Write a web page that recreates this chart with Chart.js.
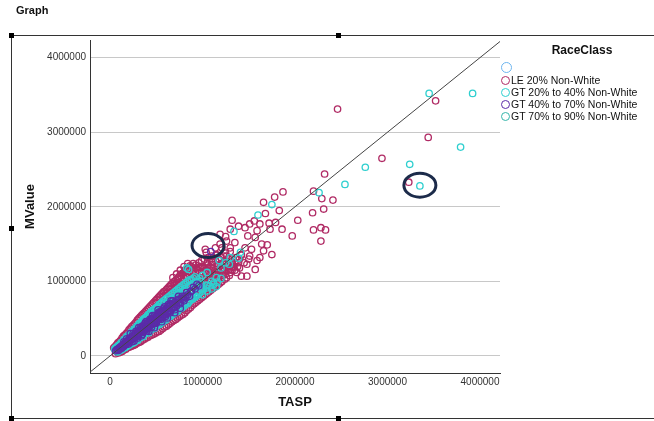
<!DOCTYPE html>
<html lang="en">
<head>
  <meta charset="UTF-8">
  <title>Graph - MValue vs TASP by RaceClass</title>
  <script src="https://cdn.jsdelivr.net/npm/chart.js"></script>
  <style>
    body { margin: 0; background: #fff; font-family: "Liberation Sans", Arial, sans-serif; }
    #wrap { position: relative; width: 654px; height: 421px; overflow: hidden; }
    #chart { position: absolute; left: 0; top: 0; }
    .title { position: absolute; left: 16px; top: 4px; font-weight: bold; font-size: 11px; color: #111; }
    .hline { position: absolute; height: 1px; background: #333; }
    .vline { position: absolute; width: 1px; background: #333; }
    .knob { position: absolute; width: 5px; height: 5px; background: #000; }
    #legend { position: absolute; left: 500px; top: 43px; width: 154px; font-size: 10.5px; color: #111; }
    #legend h4 { margin: 0 0 5px 0; text-align: center; font-size: 12px; padding-left: 10px; }
    #legend .row { height: 12px; line-height: 12px; white-space: nowrap; margin-left: 1px; }
    #legend .dot { display: inline-block; width: 7px; height: 7px; border: 1.5px solid; border-radius: 50%; vertical-align: -1px; margin-right: 1px; }
  </style>
</head>
<body>
<div id="wrap">
  <canvas id="chart" width="654" height="421"></canvas>
  <div class="title">Graph</div>
  <div class="hline" style="left:11px; top:35px; width:643px"></div>
  <div class="hline" style="left:11px; top:418px; width:643px"></div>
  <div class="vline" style="left:11px; top:35px; height:384px"></div>
  <div class="knob" style="left:9px; top:33px"></div>
  <div class="knob" style="left:336px; top:33px"></div>
  <div class="knob" style="left:9px; top:226px"></div>
  <div class="knob" style="left:336px; top:416px"></div>
  <div class="knob" style="left:9px; top:416px"></div>
  <div id="legend"><h4>RaceClass</h4></div>
</div>

<script>
  // all values in thousands (TASP, MValue)
  const seriesNames = ["", "LE 20% Non-White", "GT 20% to 40% Non-White", "GT 40% to 70% Non-White", "GT 70% to 90% Non-White"];
  const seriesColors = ["#6cb4ee", "#b02a64", "#2ecfcf", "#5b2ba8", "#35b5aa"];

  const xTicks = [0, 1000000, 2000000, 3000000, 4000000];
  const yTicks = [0, 1000000, 2000000, 3000000, 4000000];

  const unknownPts = [];

  const le20Pts = [
    // outliers
    [3520,3420],[2460,3310],[3440,2930],[2940,2650],[2320,2440],[3230,2330],[2200,2210],[1870,2200],[1780,2130],[2290,2110],
    [2410,2090],[1660,2060],[1830,1950],[2310,1970],[2190,1920],[1680,1910],[2030,1820],[1720,1780],[1790,1790],[2280,1720],
    [2200,1690],[2330,1690],[1860,1700],[1560,1810],[1620,1770],[1510,1770],[1460,1720],[1590,1680],[1730,1700],[1970,1610],
    [2280,1540],[1300,1700],[1190,1630],[1390,1740],[1490,1610],[1570,1590],[1640,1500],[1700,1490],[1660,1410],[1750,1360],
    [1620,1320],[1590,1280],[1510,1340],[1530,1430],[1460,1450],[1420,1360],[1480,1230],[1570,1160],[1480,1070],[1300,1450],
    [1350,1520],[1260,1540],[1030,1430],[1040,1390],[1140,1450],[1210,1450],[1150,1360],[1260,1340],[1320,1190],[1220,1140],
    [1370,1120],[1420,1070],[970,1190],[1060,1140],[900,1070],[1190,1500],[1320,1820],[1250,1600],
    // upper edge of cluster
    [40,110],[70,150],[100,190],[130,240],[160,280],[190,320],[220,370],[250,410],[280,450],[310,500],
    [340,540],[370,580],[400,620],[430,660],[460,700],[490,740],[520,780],[550,820],[580,860],[610,890],
    [640,930],[670,970],[700,1000],[730,1040],[760,1080],[790,1110],[820,1150],[850,1180],[880,1200],[760,1150],
    [800,1200],[720,1100],[840,1240],[900,1240],[680,1050],
    [55,125],[85,175],[115,210],[145,265],[175,300],[205,350],[235,395],[265,430],[295,480],[325,520],
    [355,560],[385,600],[415,640],[445,680],[475,720],[505,760],[535,800],[565,840],[595,870],[625,910],
    [655,950],[685,990],[715,1020],[745,1060],[775,1100],[805,1130],[835,1160],[865,1210],[895,1180],[925,1220],
    [960,1250],[990,1280],[1020,1300],[1060,1320],[1100,1340],
    // lower edge of cluster
    [60,30],[110,50],[150,80],[190,110],[230,130],[270,150],[310,180],[350,210],[390,240],[430,270],
    [470,290],[510,320],[550,350],[590,390],[630,420],[670,460],[710,490],[750,530],[790,560],[830,610],
    [870,650],[910,700],[950,740],[990,780],[1030,820],[1070,860],[1110,900],[1150,940],[1190,980],[1240,1030],
    [1290,1080],
    [90,40],[130,60],[170,90],[210,120],[250,140],[290,170],[330,190],[370,225],[410,250],[450,280],
    [490,305],[530,330],[570,370],[610,400],[650,440],[690,475],[730,510],[770,545],[810,580],[850,630],
    [890,680],[930,720],[970,760],[1010,800],[1050,840],[1090,880],[1130,920],[1170,960],[1210,1000],[1260,1050],
    // dense upper region
    [700,850],[720,900],[740,820],[760,870],[780,950],[800,900],[820,850],[840,950],[860,1000],[880,920],
    [900,980],[920,1050],[940,900],[960,1000],[980,1080],[1000,950],[1020,1050],[1040,1120],[1060,1000],[1080,1100],
    [1100,1180],[1120,1050],[1140,1130],[1160,1200],[1180,1100],[1200,1160],[1220,1250],[1240,1150],[1260,1200],[1280,1300],
    [1300,1220],[1320,1150],[1350,1250],[1380,1200],[1400,1300],[1420,1350],[900,1100],[950,1150],[1000,1200],[1050,1250],
    [1100,1300],[1150,1350],[880,1050],[820,1000],[760,950],[700,900],[650,850],[600,800],[990,1130],[1060,1180],
    [1110,1230],[1200,1320],[1250,1380],[1300,1400],[960,880],[1020,940],[1080,980],[1140,1020],[1200,1050],[1250,1100],
    [1300,1120],[1350,1150],[1400,1180],[1450,1250],[1500,1300],
    [820,1080],[860,1100],[900,1140],[940,1180],[980,1200],[1020,1180],[1060,1220],[1100,1260],[1140,1280],[1180,1300],
    [1230,1340],[1160,1160],[1200,1220],[1240,1280],[1280,1250],[1320,1300],[1360,1320],[1390,1250],[1130,1090],[1170,1140],
    [1210,1190],[1250,1230],[1290,1180],[1330,1220],[1030,1000],[1070,1040],[1110,1080],[1150,1120],[960,1050],[1000,1100],
    [1040,1150],[1080,1200],[930,1000],[970,1120],[880,1000],[840,1050],[800,1050],[780,1000],[740,980],[700,950],
    [660,900],[620,850],[580,800],[540,760],[500,710],
    // mixed inside band
    [400,520],[450,560],[500,600],[550,660],[600,700],[650,760],[700,800],[500,400],[560,460],[620,520],
    [680,580],[740,640],[800,700],[860,760],[920,820],[980,880],[1040,900],[1100,960],[1160,1000],[1220,1080],
    [1280,1150],[1340,1200]
  ];

  const gt2040Pts = [
    // outliers
    [3450,3520],[3920,3520],[3790,2800],[3240,2570],[2760,2530],[3350,2280],[2540,2300],[2260,2190],[1750,2030],[1600,1890],
    [1340,1670],[1390,1310],[1180,1280],[1290,1230],[850,1160],[830,1180],[1410,1390],
    // upper side of band
    [50,90],[80,130],[100,150],[120,180],[150,220],[180,260],[200,280],[230,320],[260,360],[290,400],
    [320,440],[350,470],[380,510],[410,550],[440,590],[470,620],[500,650],[530,690],[560,720],[600,760],
    [640,800],[680,840],[720,880],[760,920],[800,960],[840,1000],[880,1020],[920,1060],
    [70,100],[110,140],[160,200],[210,260],[270,330],[330,400],[390,460],[450,530],[510,590],[570,660],
    [630,720],[690,780],[750,840],[810,900],[870,950],[930,1000],
    [60,110],[90,125],[130,170],[170,230],[190,250],[220,290],[250,330],[280,370],[310,420],[340,450],
    [360,490],[400,530],[430,570],[460,610],[490,640],[520,670],[550,700],[580,740],[620,780],[660,820],
    [700,860],[740,900],[780,940],[820,980],[860,1020],[900,1040],[150,200],[240,300],[300,380],[370,450],
    [420,510],[480,580],[540,640],[610,710],[670,770],[730,830],[790,870],[850,930],[910,980],[970,1040],
    // lower side of band
    [90,60],[130,90],[170,120],[210,150],[250,190],[290,220],[330,250],[370,290],[410,320],[450,360],
    [490,390],[530,420],[570,460],[610,500],[650,530],[690,570],[730,600],[770,640],[810,680],[850,720],
    [890,760],[930,800],[970,850],[1010,900],[1050,940],
    [80,55],[120,80],[160,110],[200,140],[240,170],[280,200],[340,270],[400,330],[460,380],[520,440],
    [580,490],[640,550],[700,600],[760,670],[820,720],[880,780],[940,830],
    [100,70],[140,100],[180,130],[220,160],[260,180],[300,210],[320,240],[360,260],[380,300],[420,310],
    [440,350],[480,370],[500,400],[540,430],[560,450],[600,480],[620,510],[660,540],[680,560],[720,590],
    [740,620],[780,650],[800,670],[840,700],[860,740],[900,770],[920,790],[960,830],[1000,870],[1040,910],
    [1080,940],[1120,960],[1160,990],[1200,1040],
    // middle
    [140,160],[200,230],[260,250],[320,330],[380,390],[440,440],[500,510],[560,570],[620,620],[680,700],
    [740,740],[800,820],[860,880],[920,930],[980,1000],
    // top of band
    [1000,1080],[1050,1120],[1100,1000],[1150,1050],[980,900],[1050,950],[1120,980],[900,850],[950,960],[1200,1180],
    [1250,1250],[1300,1320],[1000,820],[1050,870],[1100,900],[1150,930]
  ];

  const gt4070Pts = [
    [1090,1400],
    [60,70],[80,90],[90,75],[100,110],[110,95],[120,130],[130,115],[140,150],[150,135],[160,170],
    [170,150],[180,195],[190,175],[200,210],[210,190],[220,240],[230,215],[240,250],[250,230],[260,280],
    [270,255],[280,300],[290,270],[300,320],[310,290],[320,345],[330,310],[340,360],[350,330],[360,385],
    [370,350],[380,400],[390,370],[400,430],[410,390],[420,450],[430,410],[440,470],[450,430],[460,490],
    [470,445],[480,510],[490,460],[500,530],[510,480],[520,550],[530,500],[540,570],[550,515],[560,590],
    [570,540],[580,610],[590,560],[600,630],[620,580],[630,660],[650,610],[660,690],[680,640],[700,720],
    [720,670],[740,760],[760,700],[780,800],[800,740],[830,850],[860,800],[900,920],
    [250,300],[300,260],[350,400],[400,360],[450,500],[500,450],[550,600],[600,550],[650,700],[700,650],
    [420,380],[380,430],[480,440],[520,570],[940,960],[880,870],[820,780],
    [75,85],[95,100],[115,120],[125,105],[135,140],[145,128],[155,160],[165,180],[175,165],[185,185],
    [195,200],[205,225],[215,205],[225,228],[235,260],[245,240],[255,265],[265,245],[275,285],[285,310],
    [295,280],[305,335],[315,300],[325,325],[335,350],[345,315],[355,370],[365,340],[375,390],[385,355],
    [395,410],[405,380],[415,440],[425,400],[435,455],[445,420],[455,480],[465,440],[475,500],[485,450],
    [495,520],[505,470],[515,540],[525,490],[535,560],[545,505],[555,580],[565,530],[575,600],[585,550],
    [595,620],[605,570],[615,640],[625,590],[635,670],[645,600],[655,680],[665,630],[675,700],[690,660],
    [710,690],[730,740],[750,720],[770,770],[790,760],[810,800],[840,820],[870,860],[920,900],[960,940],
    [300,240],[350,290],[400,340],[450,390],[500,440],[550,490],[600,530],[650,580],[700,620],[280,330],
    [330,380],[380,440],[430,490],[480,540],[530,590],[580,640],[630,690],[680,740],
    [220,300],[260,200],[310,380],[340,270],[390,460],[420,330],[460,540],[480,380],[520,620],[560,460],
    [590,660],[620,510],[660,740],[700,580],[740,800],[760,640],[180,230],[200,160],[150,190],[240,190]
  ];

  const gt7090Pts = [
    [150,180],[250,260],[350,330],[450,470],[550,540],[650,660],[750,780],[850,820],[950,990],[300,350],
    [600,580],[700,740]
  ];

  // y = x reference line, thousands
  const refLine = [[-300,-300],[4300,4300]];
  // hand-drawn rings, thousands
  const rings = [[1060,1480],[3350,2290]];

  const toXY = arr => arr.map(p => ({ x: p[0] * 1000, y: p[1] * 1000 }));

  const pointSets = [unknownPts, le20Pts, gt2040Pts, gt4070Pts, gt7090Pts];
  const drawOrder = [5, 4, 2, 1, 3];

  const datasets = pointSets.map((pts, i) => ({
    type: "scatter",
    label: seriesNames[i],
    data: toXY(pts),
    borderColor: seriesColors[i],
    backgroundColor: "rgba(0,0,0,0)",
    pointRadius: 3.2,
    pointBorderWidth: 1.3,
    order: drawOrder[i]
  }));

  datasets.push({
    type: "line",
    label: "ref",
    data: toXY(refLine),
    borderColor: "#444",
    borderWidth: 1,
    pointRadius: 0,
    fill: false,
    order: 0
  });

  const ringPlugin = {
    id: "rings",
    afterDatasetsDraw(chart) {
      const ctx = chart.ctx;
      const xs = chart.scales.x, ys = chart.scales.y;
      ctx.save();
      ctx.strokeStyle = "#1c2b4a";
      ctx.lineWidth = 3;
      rings.forEach(r => {
        ctx.beginPath();
        ctx.ellipse(xs.getPixelForValue(r[0] * 1000), ys.getPixelForValue(r[1] * 1000), 16, 12, 0, 0, Math.PI * 2);
        ctx.stroke();
      });
      ctx.restore();
    }
  };

  Chart.defaults.font.family = '"Liberation Sans", Arial, sans-serif';
  Chart.defaults.color = "#333";

  new Chart(document.getElementById("chart"), {
    data: { datasets: datasets },
    plugins: [ringPlugin],
    options: {
      responsive: false,
      animation: false,
      layout: { padding: { left: 12, top: 40, right: 154, bottom: 0 } },
      plugins: { legend: { display: false }, tooltip: { enabled: false } },
      scales: {
        x: {
          type: "linear",
          min: -216000,
          max: 4216000,
          afterFit: s => { s.height = 48; },
          afterBuildTicks: s => { s.ticks = xTicks.map(v => ({ value: v })); },
          ticks: { padding: 3, font: { size: 10 }, callback: v => String(v) },
          grid: { display: false, drawTicks: false },
          border: { color: "#333", width: 1 },
          title: { display: true, text: "TASP", font: { size: 13, weight: "bold" }, color: "#111", padding: { bottom: 11, top: 0 } }
        },
        y: {
          type: "linear",
          min: -228000,
          max: 4236000,
          afterFit: s => { s.width = 78; },
          afterBuildTicks: s => { s.ticks = yTicks.map(v => ({ value: v })); },
          ticks: { padding: 4, font: { size: 10 }, callback: v => String(v) },
          grid: { color: "#c8c8c8", drawTicks: false },
          border: { color: "#333", width: 1 },
          title: { display: true, text: "MValue", font: { size: 13, weight: "bold" }, color: "#111", padding: { top: 11, bottom: 0 } }
        }
      }
    }
  });

  const legend = document.getElementById("legend");
  seriesNames.forEach((name, i) => {
    const row = document.createElement("div");
    row.className = "row";
    const dot = document.createElement("span");
    dot.className = "dot";
    dot.style.borderColor = seriesColors[i];
    if (i === 0) { dot.style.width = "9px"; dot.style.height = "9px"; }
    row.appendChild(dot);
    row.appendChild(document.createTextNode(name));
    legend.appendChild(row);
  });
</script>
</body>
</html>
